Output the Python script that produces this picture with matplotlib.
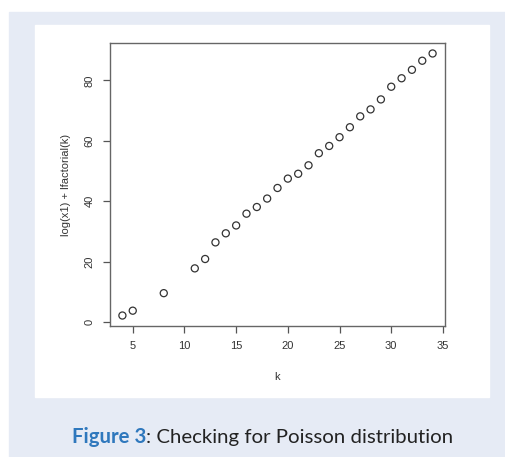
import numpy as np
import matplotlib
matplotlib.use("Agg")
import matplotlib.pyplot as plt
from matplotlib.patches import Rectangle

# values
k = [4, 5, 8, 11, 12, 13, 14, 15, 16, 17, 18, 19, 20, 21, 22, 23, 24,
     25, 26, 27, 28, 29, 30, 31, 32, 33, 34]
logval = [2.2, 3.8, 9.6, 17.8, 20.9, 26.4, 29.4, 32.0, 35.9, 38.1, 40.9,
          44.4, 47.5, 49.1, 51.9, 55.9, 58.3, 61.2, 64.5, 68.1, 70.4, 73.7,
          77.9, 80.7, 83.5, 86.5, 88.9]
xticks = [5, 10, 15, 20, 25, 30, 35]
yticks = [0, 20, 40, 60, 80]
cap_bold = "Figure 3"
cap_rest = ": Checking for Poisson distribution"

W, H = 505, 457
fig = plt.figure(figsize=(W / 100, H / 100), dpi=100)

def px(x0, y0, x1, y1):
    # pixel box (top-left origin) -> figure fraction rect
    return [x0 / W, 1 - y1 / H, (x1 - x0) / W, (y1 - y0) / H]

# light blue frame and white panel
fig.patches.append(Rectangle((9 / W, 0), 1 - 9 / W, 1 - 12 / H,
                             transform=fig.transFigure, color="#e6ebf5", zorder=0))
r = px(35, 25, 489, 397)
fig.patches.append(Rectangle((r[0], r[1]), r[2], r[3],
                             transform=fig.transFigure, color="white", zorder=1))

ax = fig.add_axes(px(110, 43, 445, 326))
ax.set_zorder(2)
ax.scatter(k, logval, s=26, facecolors="none", edgecolors="#333333", linewidths=0.9)

# R style ranges (4% padding)
xr = max(k) - min(k)
yr = max(logval) - min(logval)
ax.set_xlim(min(k) - 0.04 * xr, max(k) + 0.04 * xr)
ax.set_ylim(min(logval) - 0.04 * yr, max(logval) + 0.04 * yr)

for s in ax.spines.values():
    s.set_color("#666666")
    s.set_linewidth(1.0)

rfont = "Liberation Sans"
ax.set_xticks(xticks)
ax.set_yticks(yticks)
ax.set_xticklabels([str(v) for v in xticks], fontsize=8, family=rfont, color="#333333")
ax.set_yticklabels([str(v) for v in yticks], fontsize=8, family=rfont, color="#333333",
                   rotation=90, va="center")
ax.tick_params(direction="out", length=5, width=0.9, color="#555555", pad=6)
ax.set_xlabel("k", fontsize=8, family=rfont, color="#333333", labelpad=15)
ax.set_ylabel("log(x1) + lfactorial(k)", fontsize=8, family=rfont, color="#333333",
              labelpad=10)

# caption: fit the two pieces into ~379 px starting at x=72
cap_font = "Lato"
fs = 13
ycap = 1 - 437 / H
rend = fig.canvas.get_renderer()
t1 = fig.text(72 / W, ycap, cap_bold, fontsize=fs, family=cap_font, weight="bold",
              color="#2f78bd", ha="left", va="center")
t2 = fig.text(0, ycap, cap_rest, fontsize=fs, family=cap_font, color="#222222",
              ha="left", va="center")
w = t1.get_window_extent(rend).width + t2.get_window_extent(rend).width
fs = fs * 379 / w
t1.set_fontsize(fs)
t2.set_fontsize(fs)
w1 = t1.get_window_extent(rend).width
t2.set_x((72 + w1) / W)

fig.savefig("out.png", dpi=100)
